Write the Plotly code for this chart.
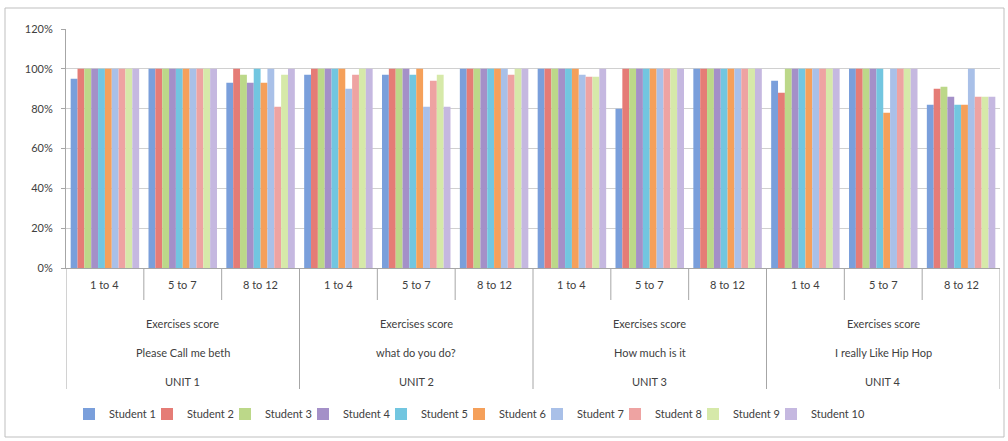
import plotly.graph_objects as go

# ---- data ----
sub_labels = ["1 to 4", "5 to 7", "8 to 12"] * 4
unit_titles = ["UNIT 1", "UNIT 2", "UNIT 3", "UNIT 4"]
unit_lessons = ["Please Call me beth", "what do you do?", "How much is it", "I really Like Hip Hop"]
group_label = "Exercises score"
student_names = ["Student %d" % i for i in range(1, 11)]

student_1 = [95, 100, 93, 97, 97, 100, 100, 80, 100, 94, 100, 82]
student_2 = [100, 100, 100, 100, 100, 100, 100, 100, 100, 88, 100, 90]
student_3 = [100, 100, 97, 100, 100, 100, 100, 100, 100, 100, 100, 91]
student_4 = [100, 100, 93, 100, 100, 100, 100, 100, 100, 100, 100, 86]
student_5 = [100, 100, 100, 100, 97, 100, 100, 100, 100, 100, 100, 82]
student_6 = [100, 100, 93, 100, 100, 100, 100, 100, 100, 100, 78, 82]
student_7 = [100, 100, 100, 90, 81, 100, 97, 100, 100, 100, 100, 100]
student_8 = [100, 100, 81, 97, 94, 97, 96, 100, 100, 100, 100, 86]
student_9 = [100, 100, 97, 100, 97, 100, 96, 100, 100, 100, 100, 86]
student_10 = [100, 100, 100, 100, 81, 100, 100, 100, 100, 100, 100, 86]

students = [student_1, student_2, student_3, student_4, student_5,
            student_6, student_7, student_8, student_9, student_10]

colors = ["#7a9fdb", "#e57c76", "#bcd889", "#a490c8", "#72c6e0",
          "#f5a05a", "#a9c0e8", "#eea3a2", "#d6e9a9", "#c5b8e0"]

# ---- layout geometry helpers (pixels -> paper) ----
W, H = 1008, 441
L, R, T, B = 66, 8, 29, 173
PW, PH = W - L - R, H - T - B


def py(p):
    return (H - B - p) / PH


def px(p):
    return (p - L) / PW


FONT = "Lato, 'Open Sans', sans-serif"
TXT = "#404040"

x_pos = list(range(len(sub_labels)))

fig = go.Figure()
for name, vals, col in zip(student_names, students, colors):
    fig.add_trace(go.Bar(x=x_pos, y=vals, name=name, marker=dict(color=col, line=dict(width=0))))
# empty spacer legend entry so the last legend label is not clipped
fig.add_trace(go.Scatter(x=[None], y=[None], name=" ", mode="markers",
                         marker=dict(color="rgba(0,0,0,0)"), hoverinfo="skip", showlegend=True))

shapes = []
annotations = []
# sub-category labels and short dividers
for i, lab in enumerate(sub_labels):
    annotations.append(dict(x=i, y=py(284), xref="x", yref="paper", text=lab, showarrow=False,
                            font=dict(size=11, color=TXT, family=FONT), yanchor="middle"))
for i in range(len(sub_labels) - 1):
    if (i + 1) % 3 != 0:
        shapes.append(dict(type="line", xref="x", yref="paper", x0=i + 0.5, x1=i + 0.5,
                           y0=0, y1=py(300), line=dict(color="#a6a6a6", width=1)))
# unit dividers
for k in range(len(unit_titles) + 1):
    xv = k * 3 - 0.5
    shapes.append(dict(type="line", xref="x", yref="paper", x0=xv, x1=xv,
                       y0=0, y1=py(389), line=dict(color="#a6a6a6", width=1)))
for k, (ut, ul) in enumerate(zip(unit_titles, unit_lessons)):
    c = k * 3 + 1
    for txt, yy in ((group_label, 323), (ul, 352), (ut, 381)):
        annotations.append(dict(x=c, y=py(yy), xref="x", yref="paper", text=txt, showarrow=False,
                                font=dict(size=11, color=TXT, family=FONT), yanchor="middle"))
# outer chart border
shapes.append(dict(type="rect", xref="paper", yref="paper", x0=px(5), x1=px(1004),
                   y0=py(437), y1=py(8), line=dict(color="#bfbfbf", width=1)))

fig.update_layout(
    width=W, height=H,
    margin=dict(l=L, r=R, t=T, b=B),
    paper_bgcolor="white", plot_bgcolor="white",
    barmode="group", bargap=0.12, bargroupgap=0,
    font=dict(family=FONT, size=11, color=TXT),
    showlegend=True,
    legend=dict(orientation="h", x=px(69), xanchor="left", y=py(414), yanchor="middle",
                entrywidth=33, entrywidthmode="pixels", itemwidth=30,
                font=dict(size=11, color=TXT, family=FONT), bgcolor="rgba(0,0,0,0)"),
    xaxis=dict(range=[-0.5, len(sub_labels) - 0.5], showticklabels=False, showgrid=False,
               zeroline=False, showline=True, linecolor="#a6a6a6", ticks=""),
    yaxis=dict(range=[0, 120], dtick=20, ticksuffix="%", showgrid=True, gridcolor="#d0d0d0",
               zeroline=False, showline=True, linecolor="#a6a6a6", ticks="outside",
               ticklen=4, tickcolor="#a6a6a6", ticklabelstandoff=6,
               tickfont=dict(size=11, color=TXT, family=FONT)),
    shapes=shapes, annotations=annotations,
)

fig.write_html("out.html")
